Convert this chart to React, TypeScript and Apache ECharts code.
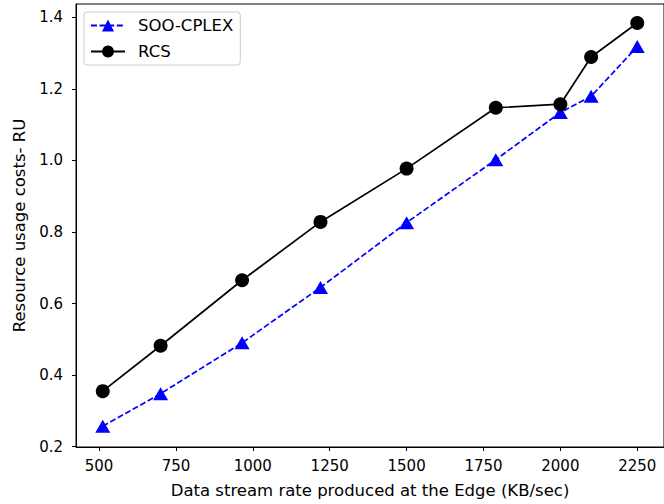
import React, { useEffect, useRef } from "react";
import * as echarts from "echarts";

const xValues = [512, 700, 965, 1220, 1500, 1790, 2000, 2100, 2250];
const sooCplex = [0.257, 0.348, 0.49, 0.645, 0.826, 1.002, 1.134, 1.179, 1.318];
const rcs = [0.355, 0.482, 0.665, 0.828, 0.977, 1.147, 1.157, 1.289, 1.384];
const xTicks = [500, 750, 1000, 1250, 1500, 1750, 2000, 2250];
const yTicks = [0.2, 0.4, 0.6, 0.8, 1.0, 1.2, 1.4];

const FONT = "DejaVu Sans";

export default function App() {
  const ref = useRef<HTMLDivElement>(null);
  useEffect(() => {
    if (!ref.current) return;
    const chart = echarts.init(ref.current, null, { renderer: "svg" });
    const pair = (ys: number[]) => xValues.map((x, i) => [x, ys[i]]);
    chart.setOption({
      animation: false,
      textStyle: { fontFamily: FONT },
      grid: {
        left: 76,
        top: 4,
        width: 594,
        height: 444,
        show: true,
        borderColor: "#000",
        borderWidth: 1,
        backgroundColor: "transparent",
      },
      legend: {
        left: 84,
        top: 12,
        orient: "vertical",
        itemWidth: 34,
        itemHeight: 15,
        itemGap: 9,
        padding: [5, 7, 5, 6],
        backgroundColor: "rgba(255,255,255,0.8)",
        borderColor: "#cccccc",
        borderWidth: 1,
        borderRadius: 3,
        textStyle: { fontFamily: FONT, fontSize: 16.5, color: "#000", padding: [0, 0, 0, 8] },
        data: ["SOO-CPLEX", "RCS"],
      },
      xAxis: {
        type: "value",
        min: 425,
        max: 2337,
        name: "Data stream rate produced at the Edge (KB/sec)",
        nameLocation: "middle",
        nameGap: 35,
        nameTextStyle: { fontFamily: FONT, fontSize: 16.5, color: "#000" },
        axisLine: { onZero: false, lineStyle: { color: "#000", width: 1 } },
        axisTick: { show: true, length: 4, inside: false, lineStyle: { color: "#000" }, customValues: xTicks },
        axisLabel: { fontFamily: FONT, fontSize: 15, color: "#000", margin: 11, customValues: xTicks, formatter: (v: number) => String(v) },
        splitLine: { show: false },
      },
      yAxis: {
        type: "value",
        min: 0.199,
        max: 1.437,
        name: "Resource usage costs- RU",
        nameLocation: "middle",
        nameGap: 45,
        nameTextStyle: { fontFamily: FONT, fontSize: 16.5, color: "#000" },
        axisLine: { show: true, onZero: false, lineStyle: { color: "#000", width: 1 } },
        axisTick: { show: true, length: 4, inside: false, lineStyle: { color: "#000" }, customValues: yTicks },
        axisLabel: { fontFamily: FONT, fontSize: 15, color: "#000", margin: 13, customValues: yTicks, formatter: (v: number) => v.toFixed(1) },
        splitLine: { show: false },
      },
      series: [
        {
          name: "SOO-CPLEX",
          type: "line",
          data: pair(sooCplex),
          symbol: "triangle",
          symbolSize: [15, 13],
          showAllSymbol: true,
          lineStyle: { color: "#0000ff", width: 1.7, type: [6, 2.6] },
          itemStyle: { color: "#0000ff", borderWidth: 0 },
          z: 2,
        },
        {
          name: "RCS",
          type: "line",
          data: pair(rcs),
          symbol: "circle",
          symbolSize: 14,
          showAllSymbol: true,
          lineStyle: { color: "#000000", width: 1.7 },
          itemStyle: { color: "#000000", borderWidth: 0 },
          z: 3,
        },
      ],
    });
    return () => chart.dispose();
  }, []);
  return (
    <div
      ref={ref}
      style={{ position: "fixed", left: 0, top: 0, width: 664, height: 504, background: "#fff" }}
    />
  );
}
